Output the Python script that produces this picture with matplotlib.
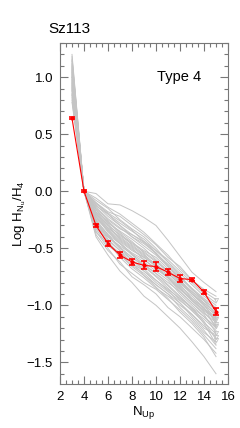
import matplotlib.pyplot as plt
from matplotlib.ticker import MultipleLocator

plt.rcParams['font.family'] = ['Liberation Sans', 'DejaVu Sans']

n_up = [3, 4, 5, 6, 7, 8, 9, 10, 11, 12, 13, 14, 15]

# median ratios (red) and their errors
med = [0.64, 0.0, -0.30, -0.46, -0.56, -0.62, -0.65, -0.66, -0.71, -0.765, -0.775, -0.885, -1.055]
med_err = [0.01, 0.01, 0.015, 0.02, 0.025, 0.03, 0.035, 0.04, 0.025, 0.03, 0.015, 0.015, 0.03]

# individual source ratios (grey)
grey = [
    [1.05, 0, -0.02, -0.11, -0.12, -0.17, -0.23, -0.30, -0.43, -0.57, -0.71, -0.80, -0.88],
    [0.95, 0, -0.10, -0.18, -0.22, -0.30, -0.38, -0.47, -0.58, -0.66, -0.78, -0.88, -0.95],
    [1.20, 0, -0.15, -0.25, -0.33, -0.38, -0.45, -0.55, -0.64, -0.75, -0.85, -0.94, -1.02],
    [0.88, 0, -0.20, -0.30, -0.38, -0.45, -0.52, -0.58, -0.68, -0.80, -0.90, -1.00, -1.08],
    [1.10, 0, -0.25, -0.38, -0.50, -0.58, -0.65, -0.72, -0.80, -0.88, -0.98, -1.07, -1.15],
    [0.80, 0, -0.30, -0.45, -0.58, -0.68, -0.76, -0.85, -0.92, -1.00, -1.08, -1.18, -1.28],
    [1.00, 0, -0.38, -0.52, -0.62, -0.75, -0.82, -0.90, -1.02, -1.10, -1.20, -1.30, -1.42],
    [1.15, 0, -0.40, -0.56, -0.70, -0.80, -0.92, -1.00, -1.10, -1.20, -1.32, -1.45, -1.60],
    [0.92, 0, -0.12, -0.22, -0.30, -0.40, -0.48, -0.56, -0.66, -0.76, -0.86, -0.95, -1.05],
    [1.02, 0, -0.18, -0.30, -0.42, -0.50, -0.60, -0.68, -0.75, -0.85, -0.95, -1.05, -1.12],
    [0.98, 0, -0.08, -0.15, -0.25, -0.33, -0.40, -0.50, -0.62, -0.72, -0.82, -0.92, -1.00],
    [1.08, 0, -0.22, -0.35, -0.45, -0.55, -0.62, -0.70, -0.78, -0.90, -1.00, -1.10, -1.20],
    [0.85, 0, -0.28, -0.40, -0.48, -0.55, -0.66, -0.75, -0.85, -0.95, -1.05, -1.15, -1.25],
    [1.12, 0, -0.16, -0.28, -0.35, -0.42, -0.50, -0.60, -0.70, -0.78, -0.90, -0.98, -1.10],
    [0.90, 0, -0.33, -0.48, -0.55, -0.65, -0.72, -0.82, -0.90, -0.98, -1.10, -1.22, -1.35],
    [1.04, 0, -0.13, -0.20, -0.28, -0.35, -0.42, -0.52, -0.60, -0.70, -0.80, -0.90, -0.98],
    [0.96, 0, -0.24, -0.34, -0.44, -0.52, -0.58, -0.65, -0.74, -0.84, -0.96, -1.06, -1.18],
    [1.18, 0, -0.20, -0.32, -0.40, -0.48, -0.56, -0.64, -0.72, -0.82, -0.94, -1.02, -1.14],
    [0.82, 0, -0.26, -0.42, -0.52, -0.60, -0.70, -0.80, -0.88, -0.96, -1.04, -1.12, -1.22],
    [1.06, 0, -0.35, -0.50, -0.64, -0.72, -0.80, -0.86, -0.95, -1.04, -1.14, -1.26, -1.38],
    [0.94, 0, -0.18, -0.26, -0.36, -0.44, -0.54, -0.62, -0.70, -0.80, -0.88, -0.98, -1.06],
    [1.14, 0, -0.10, -0.20, -0.30, -0.38, -0.44, -0.52, -0.62, -0.74, -0.86, -0.96, -1.08],
    [0.86, 0, -0.22, -0.36, -0.46, -0.56, -0.64, -0.72, -0.82, -0.92, -1.02, -1.14, -1.30],
    [1.00, 0, -0.30, -0.40, -0.50, -0.60, -0.68, -0.78, -0.86, -0.94, -1.02, -1.10, -1.19],
    [1.09, 0, -0.14, -0.24, -0.32, -0.40, -0.46, -0.54, -0.65, -0.78, -0.90, -1.00, -1.12],
    [0.78, 0, -0.36, -0.46, -0.54, -0.62, -0.74, -0.84, -0.94, -1.06, -1.16, -1.28, -1.45],
    [1.03, 0, -0.06, -0.14, -0.20, -0.28, -0.36, -0.46, -0.56, -0.68, -0.78, -0.86, -0.92],
    [0.97, 0, -0.26, -0.38, -0.46, -0.54, -0.60, -0.68, -0.76, -0.86, -0.96, -1.04, -1.10],
    [1.16, 0, -0.32, -0.44, -0.56, -0.66, -0.74, -0.82, -0.90, -1.02, -1.12, -1.24, -1.32],
    [0.89, 0, -0.16, -0.27, -0.37, -0.47, -0.55, -0.66, -0.76, -0.86, -0.94, -1.03, -1.14],
    [1.07, 0, -0.21, -0.33, -0.43, -0.51, -0.58, -0.66, -0.76, -0.88, -0.98, -1.08, -1.24],
    [0.93, 0, -0.29, -0.43, -0.52, -0.63, -0.70, -0.78, -0.87, -0.98, -1.08, -1.20, -1.26],
    [1.11, 0, -0.11, -0.19, -0.26, -0.34, -0.44, -0.54, -0.66, -0.78, -0.88, -0.96, -1.03],
    [0.84, 0, -0.24, -0.32, -0.41, -0.49, -0.57, -0.64, -0.72, -0.81, -0.90, -0.99, -1.16],
    [1.01, 0, -0.19, -0.29, -0.39, -0.46, -0.53, -0.61, -0.71, -0.83, -0.92, -1.02, -1.20],
    [0.91, 0, -0.27, -0.39, -0.49, -0.58, -0.66, -0.74, -0.83, -0.93, -1.03, -1.16, -1.34],
]
# sources whose last point is an upper limit
limits = [1, 5, 13, 16, 22, 24, 30, 33]

fig = plt.figure(figsize=(2.4, 4.28), dpi=100)
ax = fig.add_axes([0.25, 0.1028, 0.70, 0.7967])

for i, g in enumerate(grey):
    ax.plot(n_up, g, color='#c4c4c4', lw=0.7, zorder=1)
    if i in limits:
        ax.plot(n_up[-1], g[-1], marker='v', ms=3, mfc='none', mec='#c4c4c4', mew=0.6, zorder=1)

ax.errorbar(n_up, med, yerr=med_err, color='red', lw=0.8, marker='o', ms=2,
            elinewidth=1.2, capsize=2.5, capthick=1.2, zorder=3)

ax.set_xlim(2, 16)
ax.set_ylim(-1.69, 1.3)
ax.xaxis.set_major_locator(MultipleLocator(2))
ax.xaxis.set_minor_locator(MultipleLocator(0.5))
ax.yaxis.set_major_locator(MultipleLocator(0.5))
ax.yaxis.set_minor_locator(MultipleLocator(0.1))
ax.tick_params(which='both', direction='in', top=True, right=True, color='#777777',
               labelsize=9.5, pad=5)
ax.tick_params(which='major', length=6, width=0.8)
ax.tick_params(which='minor', length=3, width=0.8)
for s in ax.spines.values():
    s.set_color('#777777')
    s.set_linewidth(0.8)

ax.set_xlabel(r'N$_\mathregular{Up}$', fontsize=9.5, labelpad=1)
ax.set_ylabel(r'Log H$_\mathregular{N_u}$/H$_\mathregular{4}$', fontsize=9.5, labelpad=-1)
ax.text(0.58, 0.89, 'Type 4', transform=ax.transAxes, fontsize=10.5)
fig.text(0.2, 0.922, 'Sz113', fontsize=11)

plt.savefig('out.png', dpi=100)
